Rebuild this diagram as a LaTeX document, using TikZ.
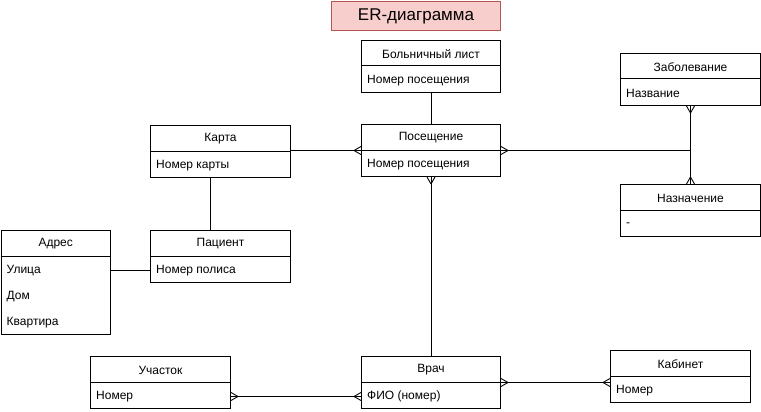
\documentclass[tikz,border=0pt]{standalone}
\usepackage{fontspec}
\setmainfont{Liberation Sans}
\usetikzlibrary{calc}
\definecolor{titlefill}{HTML}{F8CECC}
\definecolor{titledraw}{HTML}{B85450}
\tikzset{
  erb/.style={draw, line width=1pt, inner sep=0pt, fill=white},
  ertitle/.style={font=\fontsize{12}{14}\selectfont, inner sep=0pt},
  erfield/.style={font=\fontsize{12}{14}\selectfont, inner sep=0pt, anchor=west},
  conn/.style={line width=1pt},
  crowline/.style={line width=0.9pt}
}
% entity box: name, x, y, width, height, title
\newcommand\erent[6]{%
  \node[erb, minimum width=#4pt, minimum height=#5pt, anchor=north west] (#1) at (#2,#3) {};
  \draw[line width=1pt] ($(#1.north west)+(0,26)$) -- ($(#1.north east)+(0,26)$);
  \node[ertitle] (#1-t) at ($(#1.north)+(0,14)$) {#6};
}
% field: entity name, field id, row index (1..), text
\newcommand\erfld[4]{%
  \node[erfield] (#1-#2) at ($(#1.north west)+(6,26+14.5+26*#3-26)$) {#4};
}
% crow's foot, horizontal: point on edge, sign of outward direction
\newcommand\crowh[2]{%
  \draw[crowline] ($(#1)+(#2*7,0)$) -- ($(#1)+(0,4)$)
                  ($(#1)+(#2*7,0)$) -- ($(#1)+(0,-4)$);}
\newcommand\crowv[2]{%
  \draw[crowline] ($(#1)+(0,#2*7)$) -- ($(#1)+(4,0)$)
                  ($(#1)+(0,#2*7)$) -- ($(#1)+(-4,0)$);}
\begin{document}
\begin{tikzpicture}[x=1pt,y=-1pt]
\useasboundingbox (0,0) rectangle (761,412);
% title
\node[draw=titledraw, fill=titlefill, line width=1pt, minimum width=169pt, minimum height=29pt,
      anchor=north west, inner sep=0pt, font=\fontsize{17}{20}\selectfont] (title) at (331,1) {ER-диаграмма};
% entities
\erent{bl}{361}{40}{139}{52}{Больничный лист}
\erfld{bl}{f}{1}{Номер посещения}
\erent{pos}{361}{124}{139}{52}{Посещение}
\erfld{pos}{f}{1}{Номер посещения}
\erent{karta}{150}{125}{140}{52}{Карта}
\erfld{karta}{f}{1}{Номер карты}
\erent{pac}{150}{230}{140}{52}{Пациент}
\erfld{pac}{f}{1}{Номер полиса}
\erent{adr}{0.5}{230}{109.5}{104}{Адрес}
\erfld{adr}{f1}{1}{Улица}
\erfld{adr}{f2}{2}{Дом}
\erfld{adr}{f3}{3}{Квартира}
\erent{zab}{620}{53}{140}{52}{Заболевание}
\erfld{zab}{f}{1}{Название}
\erent{nazn}{620}{184}{140}{52}{Назначение}
\erfld{nazn}{f}{1}{-}
\erent{uch}{90}{356}{140}{52}{Участок}
\erfld{uch}{f}{1}{Номер}
\erent{vrach}{361}{356}{139}{52}{Врач}
\erfld{vrach}{f}{1}{ФИО (номер)}
\erent{kab}{610}{350}{140}{52}{Кабинет}
\erfld{kab}{f}{1}{Номер}
% connectors
\draw[conn] (bl.south) -- (pos.north);
\draw[conn] (karta.east |- pos.west) -- (pos.west);
\crowh{pos.west}{-1}
\draw[conn] (pos.east) -- (nazn.north |- pos.east) -- (nazn.north);
\crowh{pos.east}{1}
\draw[conn] (zab.south) -- (nazn.north);
\crowv{zab.south}{1}
\crowv{nazn.north}{-1}
\draw[conn] (pos.south) -- (vrach.north);
\crowv{pos.south}{1}
\draw[conn] ([xshift=-10pt]karta.south) -- ([xshift=-10pt]pac.north);
\coordinate (adrR) at (adr.east |- pac-f.west);
\coordinate (pacL) at (pac.west |- pac-f.west);
\draw[conn] (adrR) -- (pacL);
\coordinate (uchR) at (uch.east |- uch-f.west);
\coordinate (vrL) at (vrach.west |- uch-f.west);
\draw[conn] (uchR) -- (vrL);
\crowh{uchR}{1}
\crowh{vrL}{-1}
\coordinate (kabL) at (kab.west |- vrach.east);
\draw[conn] (vrach.east) -- (kabL);
\crowh{vrach.east}{1}
\crowh{kabL}{-1}
\end{tikzpicture}
\end{document}
